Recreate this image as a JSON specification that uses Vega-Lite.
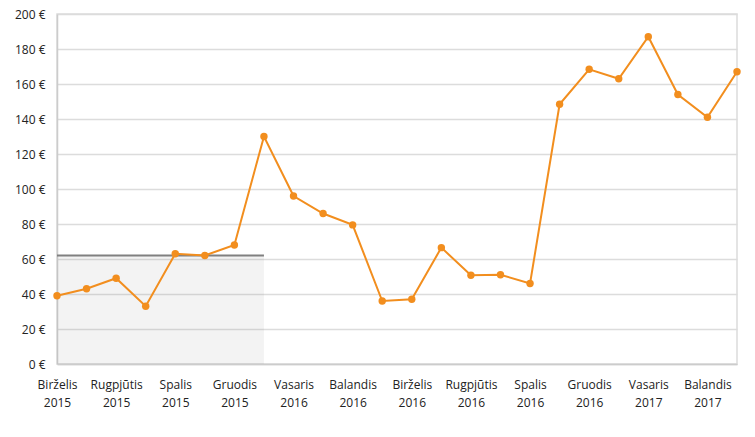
{
  "$schema": "https://vega.github.io/schema/vega-lite/v6.json",
  "autosize": "none",
  "width": 680,
  "height": 350,
  "padding": {"left": 57, "top": 14, "right": 18, "bottom": 73},
  "background": "white",
  "config": {
    "font": "Open Sans",
    "view": {"stroke": "#dcdcdc", "strokeWidth": 1.5},
    "axis": {"labelFont": "Open Sans", "labelFontSize": 12, "labelColor": "#222222", "ticks": false, "domainColor": "#cccccc", "domainWidth": 1.5, "gridColor": "#dcdcdc", "gridWidth": 1.5}
  },
  "data": {
    "values": [
      {"month": "Birželis 2015", "price": 39, "band": 62},
      {"month": "Liepa 2015", "price": 43, "band": 62},
      {"month": "Rugpjūtis 2015", "price": 49, "band": 62},
      {"month": "Rugsėjis 2015", "price": 33, "band": 62},
      {"month": "Spalis 2015", "price": 63, "band": 62},
      {"month": "Lapkritis 2015", "price": 62, "band": 62},
      {"month": "Gruodis 2015", "price": 68, "band": 62},
      {"month": "Sausis 2016", "price": 130, "band": 62},
      {"month": "Vasaris 2016", "price": 96, "band": null},
      {"month": "Kovas 2016", "price": 86, "band": null},
      {"month": "Balandis 2016", "price": 79.5, "band": null},
      {"month": "Gegužė 2016", "price": 36, "band": null},
      {"month": "Birželis 2016", "price": 37, "band": null},
      {"month": "Liepa 2016", "price": 66.5, "band": null},
      {"month": "Rugpjūtis 2016", "price": 50.7, "band": null},
      {"month": "Rugsėjis 2016", "price": 51, "band": null},
      {"month": "Spalis 2016", "price": 46, "band": null},
      {"month": "Lapkritis 2016", "price": 148.4, "band": null},
      {"month": "Gruodis 2016", "price": 168.4, "band": null},
      {"month": "Sausis 2017", "price": 163, "band": null},
      {"month": "Vasaris 2017", "price": 187, "band": null},
      {"month": "Kovas 2017", "price": 154, "band": null},
      {"month": "Balandis 2017", "price": 141, "band": null},
      {"month": "Gegužė 2017", "price": 167, "band": null}
    ]
  },
  "encoding": {
    "x": {
      "field": "month",
      "type": "ordinal",
      "sort": null,
      "scale": {"type": "point", "padding": 0},
      "axis": {
        "title": null,
        "labelAngle": 0,
        "labelOverlap": false,
        "labelPadding": 15,
        "labelLineHeight": 18,
        "grid": false,
        "values": ["Birželis 2015", "Rugpjūtis 2015", "Spalis 2015", "Gruodis 2015", "Vasaris 2016", "Balandis 2016", "Birželis 2016", "Rugpjūtis 2016", "Spalis 2016", "Gruodis 2016", "Vasaris 2017", "Balandis 2017"],
        "labelExpr": "split(datum.label, ' ')"
      }
    }
  },
  "layer": [
    {
      "mark": {"type": "area", "color": "#888888", "opacity": 0.1},
      "encoding": {
        "y": {"field": "band", "type": "quantitative", "scale": {"domain": [0, 200]}, "axis": {"title": null, "values": [0, 20, 40, 60, 80, 100, 120, 140, 160, 180, 200], "labelOverlap": false, "labelExpr": "datum.value + ' €'", "labelPadding": 12}}
      }
    },
    {
      "mark": {"type": "line", "color": "#808080", "strokeWidth": 2},
      "encoding": {"y": {"field": "band", "type": "quantitative", "axis": {"title": null, "values": [0, 20, 40, 60, 80, 100, 120, 140, 160, 180, 200], "labelOverlap": false, "labelExpr": "datum.value + ' €'", "labelPadding": 12}}}
    },
    {
      "mark": {"type": "line", "color": "#f28e1e", "strokeWidth": 2, "point": {"filled": true, "size": 55, "color": "#f28e1e"}},
      "encoding": {"y": {"field": "price", "type": "quantitative", "axis": {"title": null, "values": [0, 20, 40, 60, 80, 100, 120, 140, 160, 180, 200], "labelOverlap": false, "labelExpr": "datum.value + ' €'", "labelPadding": 12}}}
    }
  ]
}
